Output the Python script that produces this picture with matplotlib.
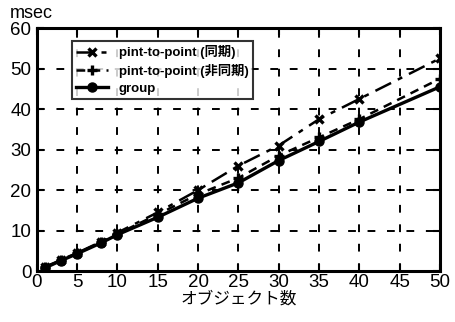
import matplotlib.pyplot as plt

plt.rcParams['font.family'] = ['Liberation Sans', 'Noto Sans CJK JP', 'DejaVu Sans']

objects = [1, 3, 5, 8, 10, 15, 20, 25, 30, 35, 40, 50]
sync = [1, 2.8, 4.5, 7.3, 9.5, 14.5, 20, 26, 31, 37.5, 42.5, 52.5]
async_ = [1, 2.7, 4.4, 7.1, 9.2, 14, 19, 23, 28.5, 33, 37.5, 47.5]
group = [0.8, 2.6, 4.3, 7, 9, 13.3, 18, 21.8, 27.3, 32, 36.8, 45.5]

fig = plt.figure(figsize=(4.55, 3.22), dpi=100)
ax = fig.add_axes([0.081, 0.158, 0.886, 0.755])

ax.plot(objects, sync, color='black', lw=1.8, ls=(0, (7, 3, 2, 3)),
        marker='x', ms=6, mew=2.4, label='pint-to-point (同期)')
ax.plot(objects, async_, color='black', lw=1.8, ls=(0, (3.5, 2.5)),
        marker='+', ms=7, mew=2.4, label='pint-to-point (非同期)')
ax.plot(objects, group, color='black', lw=2.4, ls='-',
        marker='o', ms=6.5, label='group')

ax.set_xlim(0, 50)
ax.set_ylim(0, 60)
ax.set_xticks(range(0, 51, 5))
ax.set_yticks(range(0, 61, 10))
ax.tick_params(direction='in', length=5, width=1.5, labelsize=13.5,
               top=True, right=True, pad=2)
ax.tick_params(axis='y', pad=4)
for lab in ax.get_xticklabels() + ax.get_yticklabels():
    lab.set_fontweight('medium')
ax.grid(True, color='black', ls=(0, (4, 6)), lw=1.4)
for s in ax.spines.values():
    s.set_linewidth(2.2)

ax.set_xlabel('オブジェクト数', fontsize=12, family=['Noto Sans CJK JP'], labelpad=0)
fig.text(0.022, 0.945, 'msec', fontsize=13)

leg = ax.legend(loc='upper left', bbox_to_anchor=(0.07, 0.975), fontsize=9.5,
                frameon=True, fancybox=False, edgecolor='black',
                handlelength=2.4, borderpad=0.35, labelspacing=0.35)
leg.get_frame().set_linewidth(1.5)
for t in leg.get_texts():
    t.set_fontweight('bold')

fig.savefig('out.png', dpi=100)
